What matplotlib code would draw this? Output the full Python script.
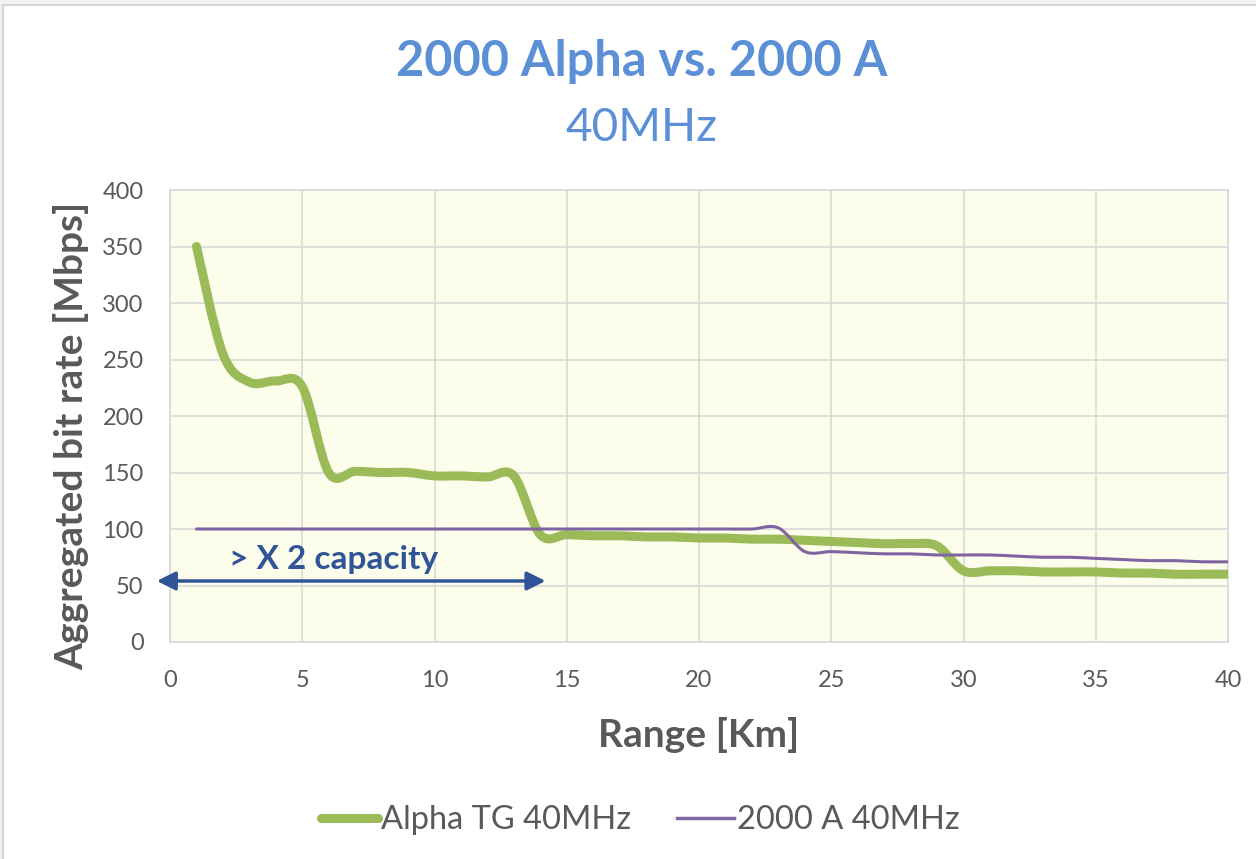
import numpy as np
import matplotlib.pyplot as plt
from matplotlib.path import Path
from matplotlib.patches import PathPatch, Rectangle
from matplotlib.lines import Line2D

range_km = [1, 2, 3, 4, 5, 6, 7, 8, 9, 10, 11, 12, 13, 14, 15, 16, 17, 18, 19, 20,
            21, 22, 23, 24, 25, 26, 27, 28, 29, 30, 31, 32, 33, 34, 35, 36, 37, 38, 39, 40]
alpha_tg = [350, 255, 230, 231, 226, 150, 151, 150, 150, 147, 147, 146, 147, 95, 95, 94, 94, 93, 93, 92,
            92, 91, 91, 90, 89, 88, 87, 87, 85, 63, 63, 63, 62, 62, 62, 61, 61, 60, 60, 60]
a2000 = [100, 100, 100, 100, 100, 100, 100, 100, 100, 100, 100, 100, 100, 100, 100, 100, 100, 100, 100, 100,
         100, 100, 101, 80, 80, 79, 78, 78, 77, 77, 77, 76, 75, 75, 74, 73, 72, 72, 71, 71]

x_ticks = [0, 5, 10, 15, 20, 25, 30, 35, 40]
y_ticks = [0, 50, 100, 150, 200, 250, 300, 350, 400]

GREEN = "#9bbb59"
PURPLE = "#8064a2"
GRAY = "#595959"
TITLE_BLUE = "#5b8fd6"
NOTE_BLUE = "#2f5597"


def smooth_path(xs, ys):
    # Catmull-Rom style cubic Bezier through the points (like a smoothed line)
    p = np.column_stack([xs, ys]).astype(float)
    n = len(p)
    verts = [p[0]]
    codes = [Path.MOVETO]
    for i in range(n - 1):
        p0 = p[i - 1] if i > 0 else p[i]
        p3 = p[i + 2] if i + 2 < n else p[i + 1]
        c1 = p[i] + (p[i + 1] - p0) / 6
        c2 = p[i + 1] - (p3 - p[i]) / 6
        verts += [c1, c2, p[i + 1]]
        codes += [Path.CURVE4] * 3
    return Path(verts, codes)


plt.rcParams["font.family"] = ["Lato", "DejaVu Sans"]

fig = plt.figure(figsize=(12.56, 8.59), dpi=100, facecolor="#f2f2f2")
fig.patches.append(Rectangle((3 / 1256, -0.01), 1.1, 1 - 5 / 859 + 0.01, transform=fig.transFigure,
                             facecolor="white", edgecolor="#d0d0d0", lw=1.2, zorder=-5))

ax = fig.add_axes([170 / 1256, 1 - 642 / 859, 1058 / 1256, 452 / 859])
ax.set_zorder(2)
ax.set_facecolor("#fdfdeb")
ax.set_xlim(0, 40)
ax.set_ylim(0, 400)
ax.set_xticks(x_ticks)
ax.set_yticks(y_ticks)
ax.grid(True, color="#d9d9d9", lw=1.2)
ax.set_axisbelow(True)
for s in ax.spines.values():
    s.set_color("#d9d9d9")
    s.set_linewidth(1.2)
ax.tick_params(length=0, labelsize=17, labelcolor=GRAY)
ax.tick_params(axis="y", pad=19)
ax.tick_params(axis="x", pad=20)

ax.add_patch(PathPatch(smooth_path(range_km, alpha_tg), fill=False, edgecolor=GREEN,
                       lw=6.5, capstyle="round", joinstyle="round", zorder=3))
ax.add_patch(PathPatch(smooth_path(range_km, a2000), fill=False, edgecolor=PURPLE,
                       lw=2.2, capstyle="round", zorder=4))

ax.set_xlabel("Range [Km]", fontsize=28, fontweight="bold", color=GRAY, labelpad=19)
ax.set_ylabel("Aggregated bit rate [Mbps]", fontsize=28, fontweight="bold", color=GRAY)
ax.yaxis.set_label_coords(-0.076, 0.455)

ax.annotate("", xy=(-0.5, 54), xytext=(14.2, 54),
            arrowprops=dict(arrowstyle="<|-|>", color=NOTE_BLUE, lw=2.5,
                            mutation_scale=28, shrinkA=0, shrinkB=0),
            annotation_clip=False, zorder=5)
ax.text(6.2, 73, "> X 2 capacity", fontsize=24, fontweight="bold", color=NOTE_BLUE,
        ha="center", va="center", zorder=5)

fig.text(0.511, 1 - 62 / 859, "2000 Alpha vs. 2000 A", fontsize=35, fontweight="bold",
         color=TITLE_BLUE, ha="center", va="center")
fig.text(0.511, 1 - 128 / 859, "40MHz", fontsize=33, color=TITLE_BLUE, ha="center", va="center")

handles = [Line2D([], [], color=GREEN, lw=6.5, solid_capstyle="round"),
           Line2D([], [], color=PURPLE, lw=2.5)]
leg = fig.legend(handles, ["Alpha TG 40MHz", "2000 A 40MHz"], loc="center",
                 bbox_to_anchor=(0.51, 1 - 820 / 859), ncol=2, frameon=False,
                 fontsize=23.5, handlelength=1.75, handletextpad=0.1, columnspacing=1.4)
for t in leg.get_texts():
    t.set_color(GRAY)

fig.savefig("out.png", dpi=100, facecolor=fig.get_facecolor())
